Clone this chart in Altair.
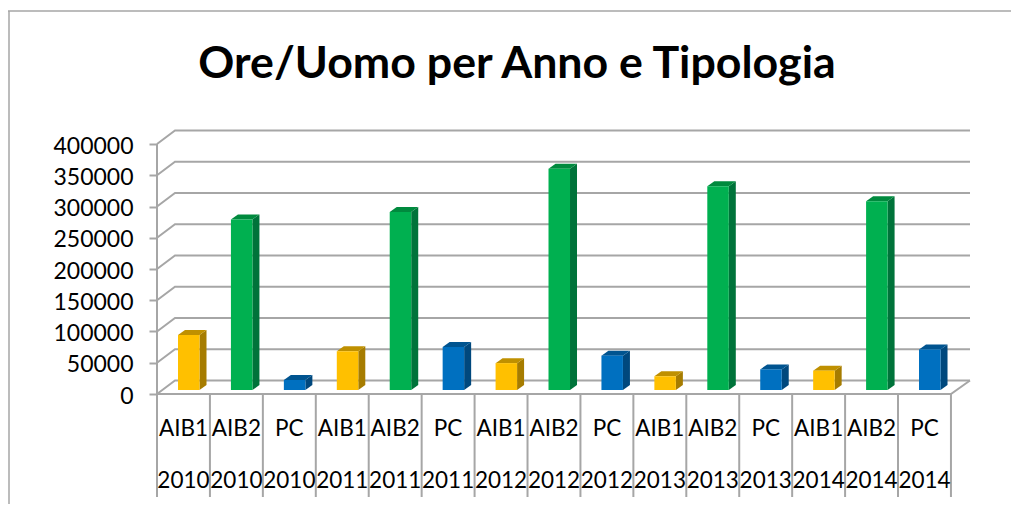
import altair as alt
import pandas as pd

types = ["AIB1", "AIB2", "PC"] * 5
years = ["2010"] * 3 + ["2011"] * 3 + ["2012"] * 3 + ["2013"] * 3 + ["2014"] * 3
hours = [88000, 273000, 16000, 62000, 285000, 69000, 43000, 354000, 55000,
         22000, 326000, 33000, 31000, 302000, 65000]
ticks = [0, 50000, 100000, 150000, 200000, 250000, 300000, 350000, 400000]
palette = {"AIB1": ("#FFC000", "#A67C00", "#BF9000"),
           "AIB2": ("#00B050", "#00733A", "#008A3E"),
           "PC": ("#0070C0", "#00487D", "#005490")}

# Pixel geometry of the scales (the pseudo-3D depth expressed in data units)
W, H = 813, 264
CAT_PX = 52.93
UNIT_PX = 250 / 400000
XMAX = W / CAT_PX
YMAX = H / UNIT_PX
WALL_DX, WALL_DY = 18 / CAT_PX, 13.5 / UNIT_PX
BAR_DX, BAR_DY = 7 / CAT_PX, 5 / UNIT_PX
BASE = 4 / UNIT_PX
BAR_L, BAR_W = 21 / CAT_PX, 21.5 / CAT_PX
GRID = "#A6A6A6"

x = alt.X("x:Q", scale=alt.Scale(domain=[0, XMAX], nice=False, zero=False), axis=None)
y_axis = alt.Axis(values=ticks, title=None, domain=False, grid=False, tickSize=8,
                  tickColor=GRID, tickWidth=2, labelFontSize=23, labelFont="Lato",
                  labelColor="#000000", labelPadding=16, labelOffset=2, format="d")
y_plain = alt.Y("y:Q", scale=alt.Scale(domain=[0, YMAX], nice=False), axis=y_axis)

# grid lines on the back wall + side wall connectors + floor
wall_rows = []
for i, t in enumerate(ticks):
    wall_rows += [dict(x=0, y=t, g=f"s{i}"), dict(x=WALL_DX, y=t + WALL_DY, g=f"s{i}"),
                  dict(x=XMAX, y=t + WALL_DY, g=f"s{i}")]
wall_rows += [dict(x=0, y=0, g="f"), dict(x=15, y=0, g="f"), dict(x=XMAX, y=WALL_DY, g="f")]
walls = alt.Chart(pd.DataFrame(wall_rows)).mark_line(color=GRID, strokeWidth=2).encode(
    x=x, y=y_plain, detail="g:N", order=alt.Order("x:Q"))
left_wall = alt.Chart(pd.DataFrame({"x": [0, 0], "y": [0, 400000]})).mark_line(
    color=GRID, strokeWidth=2).encode(x=x, y=y_plain)

layers = [walls, left_wall]
for i, (ty, v) in enumerate(zip(types, hours)):
    front, side, top = palette[ty]
    l = i + BAR_L
    r = l + BAR_W
    b = BASE
    t = BASE + v
    side_df = pd.DataFrame({"x": [r, r + BAR_DX], "y": [b, b + BAR_DY], "y2": [t, t + BAR_DY]})
    top_df = pd.DataFrame({"y": [t, t + BAR_DY], "x": [l, l + BAR_DX], "x2": [r, r + BAR_DX]})
    front_df = pd.DataFrame({"x": [l], "x2": [r], "y": [b], "y2": [t]})
    layers.append(alt.Chart(side_df).mark_area(color=side).encode(x=x, y=y_plain, y2="y2:Q"))
    layers.append(alt.Chart(top_df).mark_area(color=top, orient="horizontal").encode(
        y=y_plain, x=x, x2="x2:Q"))
    layers.append(alt.Chart(front_df).mark_rect(color=front).encode(x=x, x2="x2:Q", y=y_plain, y2="y2:Q"))

# category separators and two-row labels
sep = alt.Chart(pd.DataFrame({"x": list(range(16))})).mark_rule(color=GRID, strokeWidth=2).encode(
    x=x, y=alt.value(H), y2=alt.value(H + 103))
labels = pd.DataFrame({"x": [i + 0.5 for i in range(15)], "t": types, "yr": years})
row1 = alt.Chart(labels).mark_text(font="Lato", fontSize=22.5, color="#000000", baseline="middle").encode(
    x=x, y=alt.value(H + 35), text="t:N")
row2 = alt.Chart(labels).mark_text(font="Lato", fontSize=22.5, color="#000000", baseline="middle").encode(
    x=x, y=alt.value(H + 87), text="yr:N")

title = alt.Chart(pd.DataFrame({"t": ["Ore/Uomo per Anno e Tipologia"]})).mark_text(
    font="Lato", fontSize=44.7, fontWeight="bold", color="#000000", baseline="middle").encode(
    x=alt.value(517 - 157), y=alt.value(65 - 130), text="t:N")

FRAME = "#A6A6A6"
frame_top = alt.Chart(pd.DataFrame({"a": [0]})).mark_rule(color=FRAME, strokeWidth=1.5).encode(
    x=alt.value(-149), x2=alt.value(854), y=alt.value(-119))
frame_left = alt.Chart(pd.DataFrame({"a": [0]})).mark_rule(color=FRAME, strokeWidth=1.5).encode(
    x=alt.value(-148), y=alt.value(-119), y2=alt.value(374))

chart = alt.layer(*layers, sep, row1, row2, title, frame_top, frame_left).properties(
    width=W, height=H, padding={"left": 149, "top": 122, "right": 41, "bottom": 110},
    autosize=alt.AutoSizeParams(type="none"),
    background="white",
).configure_view(stroke=None)

chart.save("out.html", embed_options={"renderer": "svg", "actions": False})
